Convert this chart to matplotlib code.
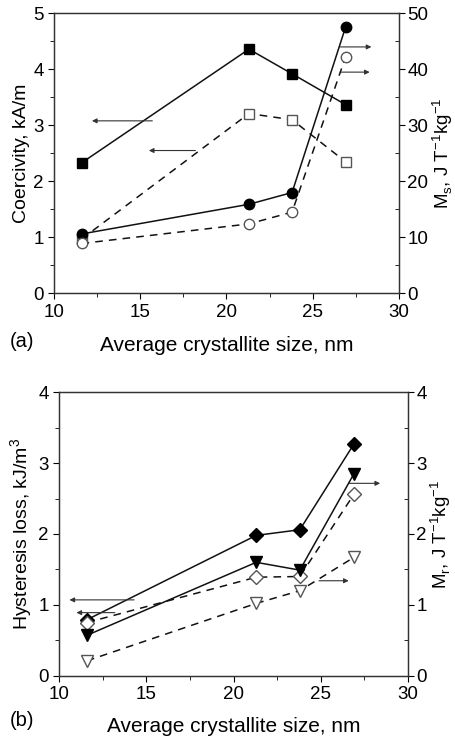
import matplotlib.pyplot as plt
from matplotlib.ticker import MultipleLocator

plt.rcParams['font.family'] = ['Liberation Sans', 'DejaVu Sans']

# crystallite size, nm
size = [11.6, 21.3, 23.8, 26.9]

# (a) coercivity, kA/m (left axis)
hc_filled = [2.33, 4.36, 3.92, 3.37]
hc_open = [0.97, 3.21, 3.10, 2.35]
# (a) Ms, J T^-1 kg^-1 (right axis)
ms_filled = [10.6, 15.9, 18.0, 47.5]
ms_open = [8.9, 12.4, 14.5, 42.2]

# (b) hysteresis loss, kJ/m^3 (left axis)
hl_filled = [0.79, 1.98, 2.06, 3.27]
hl_open = [0.75, 1.39, 1.40, 2.56]
# (b) Mr, J T^-1 kg^-1 (right axis)
mr_filled = [0.57, 1.60, 1.49, 2.85]
mr_open = [0.21, 1.02, 1.20, 1.67]

FS = 13.5


def style_axes(ax, ax2, ymax, ystep, y2max, y2step):
    ax.set_xlim(10, 30)
    ax.set_ylim(0, ymax)
    ax2.set_ylim(0, y2max)
    ax.xaxis.set_major_locator(MultipleLocator(5))
    ax.xaxis.set_minor_locator(MultipleLocator(2.5))
    ax.yaxis.set_major_locator(MultipleLocator(ystep))
    ax.yaxis.set_minor_locator(MultipleLocator(ystep / 2))
    ax2.yaxis.set_major_locator(MultipleLocator(y2step))
    ax2.yaxis.set_minor_locator(MultipleLocator(y2step / 2))
    ax.tick_params(which='both', direction='out', labelsize=FS, top=False)
    ax.tick_params(which='major', length=4)
    ax.tick_params(which='minor', length=3)
    ax2.tick_params(which='both', direction='out', labelsize=FS, pad=2)
    ax2.tick_params(which='major', length=4)
    ax2.tick_params(which='minor', length=3, direction='in')
    for a in (ax, ax2):
        for s in a.spines.values():
            s.set_linewidth(0.9)
            s.set_color('#333333')


def arrow(ax, x0, x1, y):
    ax.annotate('', xy=(x1, y), xytext=(x0, y),
                arrowprops=dict(arrowstyle='-|>', color='#333333', lw=0.8,
                                mutation_scale=7, shrinkA=0, shrinkB=0))


right_a = r'M$_\mathregular{s}$, J T$^\mathregular{-1}$kg$^\mathregular{-1}$'
right_b = r'M$_\mathregular{r}$, J T$^\mathregular{-1}$kg$^\mathregular{-1}$'

fig = plt.figure(figsize=(4.56, 7.4), dpi=100)

# ---- panel (a)
ax = fig.add_axes([0.1184, 0.6036, 0.7566, 0.3784])
ax2 = ax.twinx()
ax.plot(size, hc_filled, '-', color='#111111', lw=1.1, marker='s', ms=7,
        mfc='black', mec='black')
ax.plot(size, hc_open, '--', color='#111111', lw=1.1, marker='s', ms=7,
        mfc='white', mec='#555555', dashes=(5, 4))
ax2.plot(size, ms_filled, '-', color='#111111', lw=1.1, marker='o', ms=7.5,
         mfc='black', mec='black')
ax2.plot(size, ms_open, '--', color='#111111', lw=1.1, marker='o', ms=7.5,
         mfc='white', mec='#555555', dashes=(5, 4))
style_axes(ax, ax2, 5, 1, 50, 10)
arrow(ax, 15.7, 12.2, 3.08)
arrow(ax, 18.2, 15.5, 2.55)
arrow(ax, 26.6, 28.4, 4.40)
arrow(ax, 26.6, 28.3, 3.95)
ax.set_ylabel('Coercivity, kA/m', fontsize=14, labelpad=2)
ax2.set_ylabel(right_a, fontsize=13.5, labelpad=1)
ax.set_xlabel('Average crystallite size, nm', fontsize=15, labelpad=11)
fig.text(0.022, 0.538, '(a)', fontsize=14.5, va='center')

# ---- panel (b)
bx = fig.add_axes([0.1294, 0.0869, 0.7654, 0.383])
bx2 = bx.twinx()
bx.plot(size, hl_filled, '-', color='#111111', lw=1.1, marker='D', ms=7,
        mfc='black', mec='black')
bx.plot(size, hl_open, '--', color='#111111', lw=1.1, marker='D', ms=7,
        mfc='white', mec='#555555', dashes=(5, 4))
bx2.plot(size, mr_filled, '-', color='#111111', lw=1.1, marker='v', ms=8,
         mfc='black', mec='black')
bx2.plot(size, mr_open, '--', color='#111111', lw=1.1, marker='v', ms=8,
         mfc='white', mec='#555555', dashes=(5, 4))
style_axes(bx, bx2, 4, 1, 4, 1)
arrow(bx, 14.3, 10.6, 1.07)
arrow(bx, 13.2, 11.0, 0.89)
arrow(bx, 26.6, 28.4, 2.715)
arrow(bx, 24.9, 26.6, 1.34)
bx.set_ylabel(r'Hysteresis loss, kJ/m$^\mathregular{3}$', fontsize=14,
              labelpad=2)
bx2.set_ylabel(right_b, fontsize=13.5, labelpad=1)
bx.set_xlabel('Average crystallite size, nm', fontsize=15, labelpad=10)
fig.text(0.022, 0.027, '(b)', fontsize=14.5, va='center')

fig.savefig('out.png', dpi=100)
